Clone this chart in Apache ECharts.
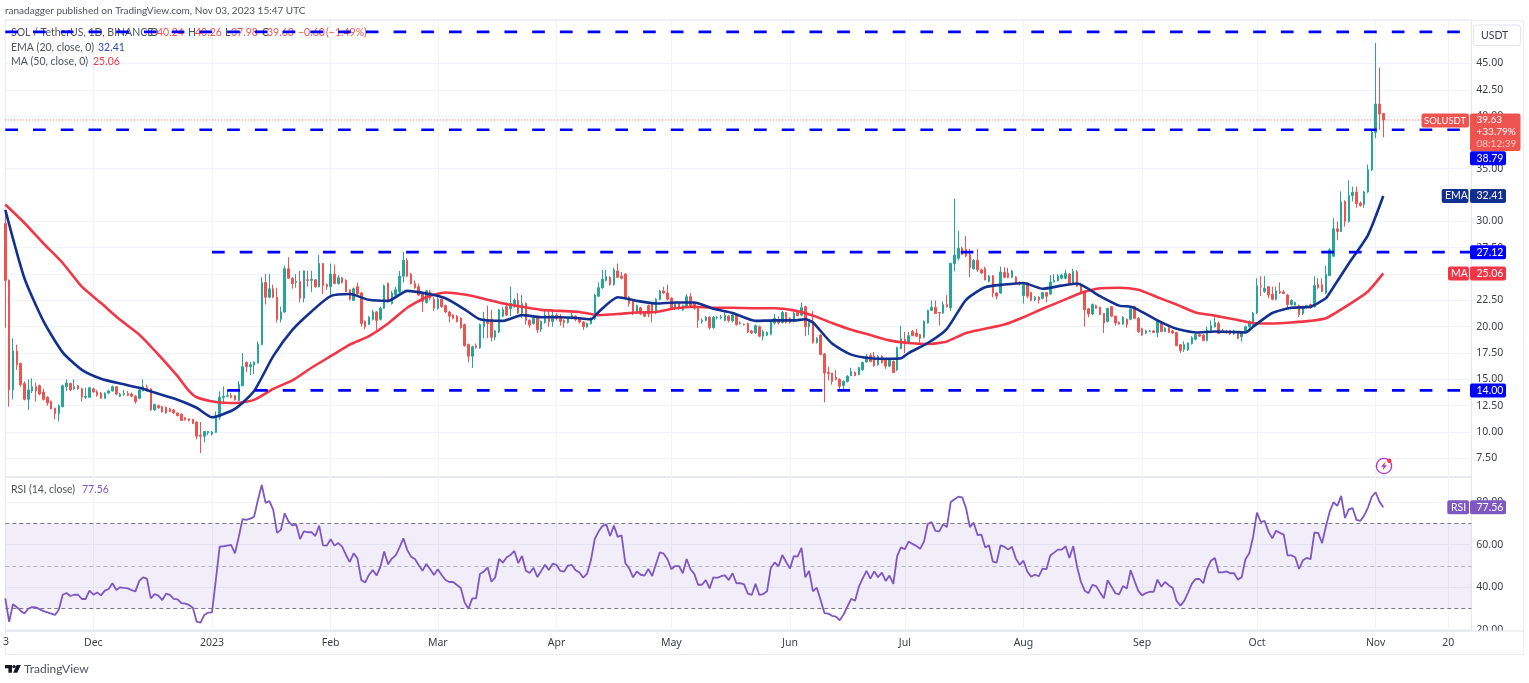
<!DOCTYPE html>
<html>
<head>
<meta charset="utf-8">
<title>SOLUSDT</title>
<script src="https://cdn.jsdelivr.net/npm/echarts@6/dist/echarts.min.js"></script>
<style>
html, body { margin: 0; padding: 0; background: #fff; }
#main { width: 1529px; height: 683px; }
</style>
</head>
<body>
<div id="main"></div>
<script>
var opens = [
29.8,24.4,14.0,17.7,16.5,14.6,13.1,13.9,14.3,14.4,
13.8,13.3,12.9,12.25,11.74,12.4,14.3,14.6,14.1,14.4,
14.1,13.3,13.3,14.1,13.8,13.7,13.2,13.7,13.9,14.3,
13.4,13.55,13.65,13.6,13.4,13.2,13.9,14.2,14.1,12.1,
12.5,12.4,12.35,12.2,12.1,11.8,11.7,11.35,11.25,11.2,
10.95,9.7,9.6,9.9,9.8,9.97,11.4,13.3,13.4,13.45,
13.45,13.0,14.4,16.6,16.2,16.35,16.55,18.3,24.2,22.8,
23.6,22.8,20.7,21.4,25.5,24.6,24.2,24.3,22.7,24.45,
24.4,24.45,23.8,26.0,24.0,23.8,25.0,24.1,24.65,24.4,
23.5,22.5,23.8,23.2,20.5,20.2,20.7,21.4,20.7,21.75,
24.1,22.2,23.0,23.3,24.8,26.3,25,24.1,23.8,23.1,
22.3,23.3,22.6,21.75,22.6,22,21.4,21.1,21,20.8,
20.2,18.3,17.2,18.2,18,20,20.7,20.7,19,19.5,
21,21.9,21.7,21.9,22.5,21.3,22.2,20.6,20.3,20.8,
19.75,20.4,21.1,20.5,21.1,21,20.6,20.4,20.8,21,
20.7,20.45,20,20.3,20.8,22.9,23.7,24.4,24.7,24,
25.3,24.8,25,22.8,22.4,21.3,21.8,21.4,22,22.1,
21.3,22.6,23.4,23.2,22.7,21.75,22.2,21.6,21.9,22.85,
22.2,21.75,20.5,20.6,20.9,19.9,20.85,20.85,20.6,21,
20.55,21.1,20.3,20.25,20.3,19.6,19.4,20,19.1,19.2,
19.3,20.35,20.6,20.4,21.35,20.8,20.5,21.35,21.1,21.9,
20,20.5,18.5,19.2,17.4,15.65,15.6,15.2,15,14.4,
14.8,15.35,15.65,15.45,15.9,16.65,17.25,17.2,16.4,17.2,
16.85,16.25,16.7,15.9,17.9,18.8,18.45,19.55,19.4,19.25,
19,20.35,21.55,21.85,21.35,21.3,22.1,21.8,26,26.5,
27.45,27.35,26.85,25.5,26.3,25.4,25.5,24.3,24.85,23.2,
23.2,25.15,25.1,24.7,24.7,24.2,22.95,24.15,23.25,22.55,
22.8,22.7,23.25,23.1,24.25,24.35,24.6,24.6,25,24.15,
25.2,24,23.35,21.7,21.2,22,21.85,21.25,20.5,21.9,
21,20.4,20.25,20.7,20.7,21.9,20.8,19.8,19.4,19.55,
19.6,19.45,20.35,19.55,19.9,19.6,19.45,18.3,17.85,17.8,
18.4,18.8,19.25,19.2,18.7,19.55,20,20.3,19.55,19.55,
19.6,19.3,19.45,19.05,19.45,20,20.2,21.3,23.9,23.35,
23.8,23.1,22.6,23.35,23.3,23,22.1,22.05,22,21.25,
21.95,22.1,21.9,24,24,23.2,24.85,26.7,29.3,29.05,
31.9,30,32.45,32.8,31.75,31.6,32.8,34.9,38.45,41.15,40.24
];
var closes = [
24.4,14.0,17.7,16.4,14.5,13.1,14.0,14.3,13.9,13.6,
13.1,12.75,12.2,11.74,12.5,14.4,14.65,14.0,14.3,14.1,
13.3,13.4,14.2,13.8,13.5,13.2,13.7,13.9,14.3,13.6,
13.6,13.65,13.5,13.4,12.9,14.0,14.3,13.9,12.1,12.6,
12.3,11.9,11.8,11.95,11.8,11.55,11.1,11.15,11.1,10.8,
9.6,9.6,10.05,10.05,10.0,11.4,13.3,13.4,13.45,13.3,
13.05,14.5,16.2,16.2,16.4,16.65,18.3,24.2,22.8,23.6,
22.8,20.7,21.4,25.5,24.6,24.1,24.3,22.7,25.3,24.4,
24.5,23.8,26.0,23.9,23.8,25.0,24.1,24.65,24.2,23.35,
22.6,23.6,23.1,20.3,20,20.9,21.4,20.6,21.75,23.9,
22.4,23.2,23.5,24.8,26.3,24.8,24.1,23.7,23,22.4,
23.4,22.7,21.75,22.6,21.9,21.4,21,20.8,20.5,19.9,
18.2,17.2,18.1,18.05,20.2,20.8,20.3,19,19.6,21.6,
21.6,21.1,22.2,22.5,21.3,22.2,20.6,20.15,20.8,19.7,
20.5,21.1,20.5,21.1,20.8,20.5,20.4,20.8,21.1,20.7,
20.45,20,20.3,20.8,23,23.7,24.5,24.75,24,25.4,
24.7,24.6,22.8,22.2,21.2,22,21.2,21,21.2,21.3,
22.6,23.4,23.2,22.6,21.75,22.2,21.75,22,22.85,21.9,
21.75,20.6,20.6,20.9,19.9,20.9,20.9,20.9,21.1,20.6,
21.1,20.2,20.35,20.2,19.5,19.4,20.1,19.1,19.55,19.45,
20.5,20.8,20.35,21.35,20.4,20.4,21.3,21.05,21.8,20,
20.4,18.5,18.9,17.35,15.6,15.55,14.8,15,14.35,14.8,
15.3,15.75,15.35,16.1,16.6,17.2,16.7,16.3,17.2,16.6,
16.25,16.85,15.65,18,18.85,18.45,19.15,19.15,19.1,18.9,
20.5,21.55,21.85,21.25,21.3,22.1,21.9,26,26.8,27.45,
26.85,26.7,25.6,26.3,25.4,25.1,24.45,24.8,23.2,22.9,
25.2,24.7,24.7,25.3,24.15,24.1,24,22.9,22.5,22.8,
22.55,23.25,22.9,24.25,24.4,24.8,24.9,25.05,24.1,25.25,
23.85,23.2,21.6,21.2,22.1,21.75,21.15,20.35,21.75,21,
20.35,20.25,20.9,20.2,21.7,20.8,19.55,19.2,19.6,19.6,
19.45,20.5,19.55,19.85,19.45,19.4,18.2,17.75,18.3,18.45,
18.95,19.25,19.1,18.7,19.65,20.1,20.4,19.35,19.6,19.45,
19.3,19.6,18.9,19.55,20,20.5,21.3,23.9,23.85,23.65,
23,22.6,23.4,23.2,23.15,22.1,22.5,22.3,21.15,21.95,
22,21.8,23.9,23.7,23.35,24.95,27.3,29.3,29.05,31.85,
30,32.45,32.75,31.7,31.5,32.8,34.9,38.45,41.15,40.2,39.63
];
var lows = [
19.9,12.4,13.1,15.9,14.3,13.0,12.1,13.7,12.9,13.5,
13.0,12.5,12.15,11.2,11.0,12.35,13.9,13.9,14.0,14.0,
12.9,13.15,13.25,13.75,13.35,13.15,13.15,13.6,13.85,13.5,
13.3,13.45,13.4,13.3,12.7,13.1,13.85,13.85,12.0,12.0,
12.2,11.85,11.75,11.9,11.75,11.5,11.05,11.1,11.0,10.75,
9.3,8.0,9.0,9.7,9.65,9.9,11.15,12.8,13.3,13.2,
13.0,12.95,14.35,15.7,15.4,15.5,16.5,18.25,22.1,22.7,
22.7,20.4,20.4,21.3,24.55,23.6,23.7,22.3,22.3,23.8,
23.3,23.7,23.75,23.1,23.5,22.9,24.05,24.0,24.1,23.3,
22.5,22.45,23.05,20.0,19.75,20.15,20.6,19.7,20.6,21.7,
22.3,22.1,22.9,23.2,24.2,24.7,24.0,23.6,22.9,21.4,
22.2,22.5,21.5,21.6,21.8,21.3,20.4,20.7,20.4,19.8,
18.1,16.6,16.1,17.9,17.9,18.9,18.9,18.6,18.7,19.4,
20.9,21,21,21.8,21.2,20.8,20.2,19.9,20.2,19.4,
19.5,20.3,20,20,20.6,20.1,19.9,20.3,20.7,20.5,
20.3,19.7,19.9,20.2,20.6,22.8,23.6,24.3,23.9,23.9,
24.6,24.5,22.7,21.9,21.1,21.2,21.1,20.9,20.9,20.4,
21.2,22.5,23.1,22.5,21.6,21.6,21.6,21.5,21.8,21.8,
21.6,19.9,20.3,20.5,19.7,19.8,20.7,20.7,20.5,20.4,
20.4,20.1,20.2,20.1,19.4,19.3,19.3,19,18.7,19.1,
19.2,20.2,20.2,20.3,20.3,20.3,20.4,21,21,19.1,
19.2,18.4,18.4,17.3,12.8,14.9,14.5,14.9,14,14,
14.7,15.3,15.3,15.4,15.8,16.6,16.6,16.2,16.3,16.5,
16,16.2,15.6,15.8,18,17.5,18.4,19.1,19,18.4,
18.9,20.3,21.5,21.2,20.1,21.2,21.8,21.5,25.25,26.3,
26.8,26.6,24.7,25.4,25.2,25,24.4,24.2,22.8,22.6,
23.1,24.6,24.6,24.6,24.1,23.9,22.2,22.7,22.4,22.4,
22.2,22.6,22.3,23,24.2,24.3,24.5,24.5,24,24.1,
23.8,23.1,20,20.9,21.1,21.7,21.1,19.4,20.4,20.9,
20.1,20.2,20.2,19.9,20.6,20.7,19.4,19.15,19.3,19.5,
19.4,19,19.5,19.5,19.4,19.3,18.15,17.5,17.6,17.7,
18.3,18.7,19,18.6,18.6,19.5,19.9,19.3,19.4,19.35,
19.2,19.2,18.8,18.6,19.4,19.9,20.1,21.2,22.9,23.2,
22.7,22.5,22.5,23.1,23.1,21.7,22,22,20.9,21.1,
21.8,21.7,21.8,23.6,23.3,23.1,24.8,26.6,28.2,29,
29.5,29.9,31.9,31.3,31.4,31.3,32.7,34.8,37.9,38.7,37.98
];
var highs = [
31.0,24.5,18.9,18.3,16.6,14.8,15.0,15.1,14.7,14.5,
14.1,13.4,13.0,12.3,12.6,14.5,15.0,14.7,15.0,14.45,
14.2,14.2,14.3,14.2,14.0,13.8,13.75,14.0,14.4,14.35,
13.7,14.0,13.9,13.75,13.5,14.1,15.0,14.5,14.15,12.7,
12.6,12.5,12.4,12.3,12.15,11.85,11.75,11.4,11.3,11.25,
11.0,10.95,10.1,10.1,10.1,11.95,13.85,14.3,14.0,13.7,
13.5,14.85,17.5,16.7,16.65,16.7,18.6,24.7,25.0,25.0,
24.0,23.7,21.9,25.8,26.6,24.7,25.0,25.3,25.35,25.3,
25.3,24.5,26.8,26.05,24.1,26.0,25.9,24.9,24.7,24.5,
23.55,23.7,24.2,23.3,20.6,21.0,21.6,21.5,21.9,24.0,
24.2,23.4,23.8,25.3,27.1,26.5,25.1,24.4,24.1,23.2,
23.5,23.5,22.8,22.8,22.7,22.1,21.5,21.2,21.1,20.9,
20.3,18.4,18.2,18.4,20.3,21.4,22,21.6,19.7,21.7,
21.9,22.3,23.8,22.7,23.2,23,22.3,20.7,21,21,
20.6,21.5,21.5,21.5,21.3,21.2,20.7,20.9,21.3,21.1,
20.8,20.5,20.4,20.9,23.1,24.2,25.4,25.4,24.8,25.6,
26,25.2,25.1,22.9,22.6,22.1,21.9,21.5,22.1,22.2,
22.7,23.5,23.8,24,22.8,22.3,22.3,22.1,23.1,23.2,
22.3,21.8,20.8,21,21,21,21,21.1,21.5,21.1,
21.2,21.2,20.5,20.3,20.4,19.7,20.2,20.1,19.7,19.55,
20.6,21.2,21,21.5,21.4,20.9,21.4,21.5,22.3,22,
20.5,21.5,19,19.3,17.5,16.2,15.6,15.9,15.1,14.9,
15.4,16.1,15.75,16.2,16.7,17.4,17.5,17.6,17.3,17.3,
17,16.9,16.8,18.1,20.1,19.5,19.5,19.7,19.8,19.3,
20.6,21.6,22.5,22.5,21.4,22.4,23,26.1,32.15,29.1,
27.6,28.6,27.4,26.4,27.4,25.5,25.7,24.9,24.9,23.3,
25.7,25.65,25.6,25.4,24.8,24.3,24.1,24.2,23.3,22.9,
22.9,23.3,23.3,24.9,25,25,25,25.4,25.1,25.5,
25.4,24.1,23.4,21.8,22.2,22.1,21.9,21.3,21.8,21.95,
21.05,20.5,21,20.8,21.9,22,20.9,19.9,19.7,19.7,
19.7,20.7,20.4,19.95,20,19.7,19.5,18.35,18.6,18.5,
19.1,19.4,19.35,19.3,20,20.6,20.9,20.5,19.8,19.7,
19.7,19.7,19.5,19.6,20.1,20.6,21.4,24.6,24.8,24.8,
23.85,23.8,23.8,24.2,23.5,23.1,22.6,22.4,22.1,22,
22.1,22.2,24.8,24.6,24.6,25.8,27.45,30.3,30,32.85,
32,33.9,33.3,33.3,31.9,32.9,35.4,38.6,46.95,44.6,40.26
];

var emaDays = [0,5,10,15,20,25,30,35,40,45,50,54,60,65,70,75,80,85,90,95,100,105,110,115,120,124,130,135,140,145,150,153,155,160,165,170,175,180,185,190,196,201,206,209,211,216,221,226,231,234,236,241,246,251,256,261,266,271,276,280,286,291,294,296,301,306,311,316,321,324,326,331,336,341,345,346,351,356,360];
var emaValues = [31.1,24.6,20.5,17.56,15.9,15.06,14.6,14.2,13.64,13.07,12.3,11.4,12.2,13.9,17.2,19.7,21.45,22.9,23.1,22.55,22.45,23.4,23.15,22.7,21.65,20.7,20.55,21.1,20.9,20.9,20.8,20.7,21.4,22.8,22.45,22.2,22.3,22.3,21.7,21.3,20.55,20.6,20.6,20.7,20.4,18.4,17.35,17,16.95,17,17.5,18.45,19.8,22.55,23.75,24,24.15,23.6,23.9,24.1,22.9,22,21.9,21.6,20.6,19.8,19.45,19.55,19.5,19.45,20,21.3,21.8,21.9,22.7,23.2,26,28.7,32.41];
var maDays = [0,5,10,15,20,25,30,35,40,45,48,50,55,60,65,70,75,80,85,90,95,100,105,110,115,120,125,130,135,140,145,150,155,160,165,170,175,180,185,190,196,201,206,211,216,221,226,231,236,241,246,251,256,261,266,271,276,281,286,291,296,301,306,311,316,321,326,331,336,341,345,351,356,360];
var maValues = [31.6,29.85,27.9,26.05,23.8,22.25,20.65,19.25,17.35,15.3,13.9,13.3,12.85,12.75,13.05,14.1,14.9,16.1,17.2,18.3,19.1,20.3,21.8,22.8,23.25,23.05,22.65,22.2,21.9,21.6,21.5,21.4,21.1,21.2,21.35,21.4,21.75,21.9,21.8,21.8,21.75,21.75,21.55,21.05,20.35,19.7,19.2,18.7,18.45,18.35,18.6,19.4,19.8,20.2,20.9,21.7,22.45,23.2,23.65,23.7,23.5,22.8,22.1,21.35,21.05,20.7,20.35,20.3,20.4,20.55,20.8,22.1,23.35,25.06];

var rsiValues = [
34.7,23.7,31.9,30.5,28.9,27.6,29.8,30.6,30.5,29.5,
28.7,28.1,27.5,26.9,29.5,36.4,37.2,35.8,36.4,36.4,
34.4,34.4,38.3,36.4,37.5,36.1,38.3,39.1,41.8,38.6,
39.9,39.6,39.4,38.6,38,42.9,44.6,44,34.7,36.7,
36,33.9,36.9,36.3,34.5,34.2,32.5,32.2,31.6,30.3,
23.7,23.3,26.9,28,28.1,43.3,59,59.2,59.5,59.8,
55.9,63.7,72,71.6,72.2,73.1,81,88,79.6,80.4,
76.3,65.5,66.9,74.7,70.8,69,69.4,62.6,66.2,65.8,
65.8,64,68.9,59.6,59.5,62.5,59.5,60.7,59,55.1,
51.8,55.9,53.5,43.3,42.1,45.7,48,45.4,49.6,56.7,
50.7,53.4,54.9,58.7,62.9,57.5,54.3,53.2,50.4,47.7,
50.9,48.4,45.7,48.4,45.7,43.3,42.4,42.4,41,39.6,
32.8,29.8,34.7,34.7,46.2,47.3,49.3,42.5,44.6,53.2,
51.5,54,55.1,57,51.3,54.6,47.7,46.6,49.1,44.7,
47.6,50.5,48,51,50.4,47.6,47.3,50.1,50.4,47.9,
46.9,44.4,46.3,52.7,62.6,66.1,68.7,69.5,64,68.9,
63.6,64.4,51.2,48.8,44.6,47.3,45.8,45.4,48.5,45.2,
50.9,56.4,55.7,53.1,48.4,49.9,49.9,46.5,53.2,48.4,
46.2,41.1,41.1,43.3,39.4,44.6,44.3,45.1,45.5,43.3,
46.5,41.8,41.9,41.3,36.9,36.3,41.5,36.3,36.7,38,
49,51.6,49.8,55.1,51.8,48.7,54.6,54.3,58.5,44.6,
47.6,38,39.7,33.9,27.8,27.5,26.5,26.1,24.4,27.1,
30.8,34.5,33.6,40.2,44.1,47.6,44,47.4,44.6,46.8,
42.9,45.4,41.5,54.6,58.7,57.8,61.4,60.3,59.4,58,
61.4,69.7,70.6,66.4,66.2,69.5,68.2,80,81.3,82.5,
82.2,77.1,68.2,70.3,64.5,64.7,58.7,59.6,52,51.5,
59.6,59,57.6,59,53.5,50.5,52.4,47.3,44.9,45.8,
45.1,48.7,48.4,54.9,56.2,57.6,57.6,59.2,53.7,59.3,
49.6,42.5,38.3,37.1,41,40.4,37.5,34.7,43.2,40.2,
37.1,36.6,40.5,39.3,47.9,42.9,38.2,36.1,37.2,37.8,
37.7,43.5,40.2,42.4,40.8,39.6,33.5,31.3,33.5,37.4,
41.6,43.8,43.8,41.8,48.7,52.4,53.7,46.9,46.9,47.4,
46.5,46.6,43.5,44.6,53.1,55.9,63.7,75,70.6,71.1,
66.1,62.9,66.5,65.5,64.7,54.9,54.9,54,48.5,52.6,
53.7,53.2,65.6,65.5,60.6,68.4,75.5,79.9,78.2,82.9,
72.5,76.6,77.1,71.6,71.1,73.6,77.4,82.5,84.6,80.2,77.56
];

// price scale ticks and hand drawn levels
var priceTicks = [7.5,10,12.5,15,17.5,20,22.5,25,27.5,30,35,40,42.5,45];
var rsiTicks = [20,40,60,80];
var topLevel = 48;
var upperLevel = 38.71;
var midLevel = 27.08;
var lowLevel = 13.95;
var lastPrice = 39.63;
var emaLast = 32.41;
var maLast = 25.06;
var rsiLast = 77.56;

var tickDates = ['2022-12-01','2023-01-01','2023-02-01','2023-03-01','2023-04-01','2023-05-01','2023-06-01','2023-07-01','2023-08-01','2023-09-01','2023-10-01','2023-11-01','2023-11-20'];
var tickLabels = ['Dec','2023','Feb','Mar','Apr','May','Jun','Jul','Aug','Sep','Oct','Nov','20'];

var categories = [];
var startDay = Date.UTC(2022, 10, 8);
for (var d = 0; d < 384; d++) {
    categories.push(new Date(startDay + d * 86400000).toISOString().slice(0, 10));
}

var FONT = '"Noto Sans", sans-serif';
var LABEL_FONT = 'Lato, sans-serif';
var TEXT = '#3a3e48';
var GRID = '#f0f3fa';
var BORDER = '#e0e3eb';
var UP = '#26a69a';
var DOWN = '#ef5350';
var BLUE = '#0000ff';
var NAVY = '#12308f';
var PINK = '#f23645';
var PURPLE = '#7e57c2';

var candles = opens.map(function (o, i) {
    return [o, closes[i], lows[i], highs[i]];
});

function pairs(days, values) {
    return days.map(function (d, i) { return [d, values[i]]; });
}

function isTick(index, value) {
    return tickDates.indexOf(value) >= 0;
}

function hLine(name, from, to, value) {
    return {
        name: name,
        type: 'line',
        xAxisIndex: 0,
        yAxisIndex: 0,
        data: [[from, value], [to, value]],
        symbol: 'none',
        z: 6,
        silent: true,
        lineStyle: { color: BLUE, width: 2.6, type: [12.7, 15.03], cap: 'butt' }
    };
}

var chart = echarts.init(document.getElementById('main'), null, { renderer: 'canvas' });

chart.setOption({
    animation: false,
    backgroundColor: '#fff',
    textStyle: { fontFamily: FONT },
    grid: [
        { left: 5.3, top: 20, width: 1466, height: 457, show: true, borderColor: BORDER, borderWidth: 1 },
        { left: 5.3, top: 477, width: 1466, height: 154, show: true, borderColor: BORDER, borderWidth: 1 }
    ],
    xAxis: [
        {
            type: 'category', gridIndex: 0, data: categories, boundaryGap: false,
            axisLine: { show: false }, axisTick: { show: false }, axisLabel: { show: false },
            splitLine: { show: true, interval: isTick, lineStyle: { color: GRID, width: 1 } }
        },
        {
            type: 'category', gridIndex: 1, data: categories, boundaryGap: false,
            axisLine: { show: false }, axisTick: { show: false },
            axisLabel: {
                show: true, interval: isTick, color: TEXT, fontSize: 10.5, margin: 7, fontFamily: FONT,
                formatter: function (value) { return tickLabels[tickDates.indexOf(value)]; }
            },
            splitLine: { show: true, interval: isTick, lineStyle: { color: GRID, width: 1 } }
        }
    ],
    yAxis: [
        {
            type: 'value', gridIndex: 0, position: 'right', min: 5.726, max: 49.126,
            axisLine: { show: false }, axisTick: { show: false, customValues: priceTicks },
            axisLabel: {
                color: TEXT, fontSize: 10.5, margin: 5, fontFamily: FONT, customValues: priceTicks,
                formatter: function (v) { return v.toFixed(2); }
            },
            splitLine: { show: true, lineStyle: { color: GRID, width: 1 } }
        },
        {
            type: 'value', gridIndex: 1, position: 'right', min: 19.34, max: 91.78,
            axisLine: { show: false }, axisTick: { show: false, customValues: rsiTicks },
            axisLabel: {
                color: TEXT, fontSize: 10.5, margin: 5, fontFamily: FONT, customValues: rsiTicks,
                formatter: function (v) { return v.toFixed(2); }
            },
            splitLine: { show: true, lineStyle: { color: GRID, width: 1 } }
        }
    ],
    series: [
        {
            name: 'SOLUSDT', type: 'candlestick', xAxisIndex: 0, yAxisIndex: 0, data: candles, barWidth: 2, z: 3,
            itemStyle: { color: UP, color0: DOWN, borderColor: UP, borderColor0: DOWN, borderWidth: 1 }
        },
        {
            name: 'Last', type: 'line', xAxisIndex: 0, yAxisIndex: 0, symbol: 'none', z: 2, silent: true,
            data: [[0, lastPrice], [372, lastPrice]],
            lineStyle: { color: DOWN, width: 1, type: [1, 2] }
        },
        {
            name: 'EMA', type: 'line', xAxisIndex: 0, yAxisIndex: 0, data: pairs(emaDays, emaValues),
            symbol: 'none', smooth: 0.2, z: 5, lineStyle: { color: NAVY, width: 2.6 }
        },
        {
            name: 'MA', type: 'line', xAxisIndex: 0, yAxisIndex: 0, data: pairs(maDays, maValues),
            symbol: 'none', smooth: 0.2, z: 4, lineStyle: { color: PINK, width: 2.6 }
        },
        hLine('Top', 0, 380, topLevel),
        hLine('Upper', 0, 380, upperLevel),
        hLine('Mid', 54, 383, midLevel),
        hLine('Low', 58, 383, lowLevel),
        {
            name: 'RSI', type: 'line', xAxisIndex: 1, yAxisIndex: 1, data: rsiValues,
            symbol: 'none', z: 5, lineStyle: { color: PURPLE, width: 1.8 },
            markArea: {
                silent: true,
                itemStyle: { color: 'rgba(126,87,194,0.1)' },
                data: [[{ yAxis: 70 }, { yAxis: 30 }]]
            },
            markLine: {
                silent: true, symbol: 'none', label: { show: false },
                data: [
                    { yAxis: 70, lineStyle: { color: '#787b86', width: 1, type: [4, 3] } },
                    { yAxis: 50, lineStyle: { color: '#b2b5be', width: 1, type: [4, 3] } },
                    { yAxis: 30, lineStyle: { color: '#787b86', width: 1, type: [4, 3] } }
                ]
            }
        }
    ]
});

function text(x, y, s, color, size, font) {
    var style = { x: x, y: y, text: s, fill: color, font: (size || 10.5) + 'px ' + (font || LABEL_FONT), textVerticalAlign: 'middle' };
    return { type: 'text', z: 1, silent: true, style: style };
}

function box(x, y, w, h, fill, z) {
    return { type: 'rect', z: z || 100, silent: true, shape: { x: x, y: y, width: w, height: h, r: 2 }, style: { fill: fill } };
}

function tag(x, yc, w, fill, s, textX, size) {
    var t = text(textX, yc, s, '#fff', size || 10.5);
    t.z = 101;
    return [box(x, yc - 7, w, 14, fill), t];
}

var py = function (v) { return chart.convertToPixel({ yAxisIndex: 0 }, v); };
var ry = function (v) { return chart.convertToPixel({ yAxisIndex: 1 }, v); };

var els = [];
// header and legends
els.push(text(5, 10.5, 'ranadagger published on TradingView.com, Nov 03, 2023 15:47 UTC', '#50535e', 10));
els.push(text(11, 33, 'SOL / TetherUS, 1D, BINANCE', '#50535e'));
var ohlcX = [150, 188, 225, 262];
['O', 'H', 'L', 'C'].forEach(function (s, i) { els.push(text(ohlcX[i], 33, s, '#50535e')); });
var valX = [157, 195, 231, 267, 298, 326];
['40.24', '40.26', '37.98', '39.63', '\u22120.60', '(\u22121.49%)'].forEach(function (s, i) {
    els.push(text(valX[i], 33, s, DOWN));
});
els.push(text(11, 47.5, 'EMA (20, close, 0)', '#50535e'));
els.push(text(98, 47.5, '32.41', '#2a4fb0'));
els.push(text(11, 62, 'MA (50, close, 0)', '#50535e'));
els.push(text(93, 62, '25.06', PINK));
els.push(text(11, 490, 'RSI (14, close)', '#50535e'));
els.push(text(82, 490, '77.56', PURPLE));

// frame
els.push({ type: 'rect', z: 0, silent: true, shape: { x: 5.5, y: 20.5, width: 1518, height: 634 }, style: { fill: null, stroke: '#ececf2', lineWidth: 1 } });
// price scale clips its own labels at the time axis
els.push({ type: 'rect', z: 50, silent: true, shape: { x: 1472, y: 631, width: 51, height: 22 }, style: { fill: '#fff' } });
els.push({ type: 'line', z: 51, silent: true, shape: { x1: 5, y1: 631, x2: 1524, y2: 631 }, style: { stroke: BORDER, lineWidth: 1 } });
els.push(text(3, 642.5, '3', TEXT, 10.5, FONT));

// USDT button
els.push({ type: 'rect', z: 10, silent: true, shape: { x: 1473.5, y: 25, width: 47, height: 20.5, r: 3 }, style: { fill: '#fff', stroke: BORDER, lineWidth: 1 } });
var u = text(1481, 35.5, 'USDT', TEXT, 10.5); u.z = 11; els.push(u);

// price tags
els = els.concat(tag(1421.5, py(lastPrice) + 0.5, 47.5, DOWN, 'SOLUSDT', 1424, 9.5));
els.push(box(1470, 113.5, 50.5, 37.5, DOWN));
[['39.63', '#fff', 120], ['+33.79%', '#fff', 132], ['08:12:39', '#ffc9c7', 144]].forEach(function (r) {
    var t = text(1476.5, r[2], r[0], r[1], 10); t.z = 101; els.push(t);
});
els = els.concat(tag(1470, 158.2, 36, BLUE, '38.79', 1476.5));
els = els.concat(tag(1470, py(midLevel), 36, BLUE, '27.12', 1476.5));
els = els.concat(tag(1470, py(lowLevel), 36, BLUE, '14.00', 1476.5));
els = els.concat(tag(1441.7, py(emaLast), 26.8, NAVY, 'EMA', 1445));
els = els.concat(tag(1470, py(emaLast), 36, NAVY, '32.41', 1476.5));
els = els.concat(tag(1448, py(maLast), 21, PINK, 'MA', 1451));
els = els.concat(tag(1470, py(maLast), 36, PINK, '25.06', 1476.5));
els = els.concat(tag(1447.3, ry(rsiLast), 21.7, PURPLE, 'RSI', 1451));
els = els.concat(tag(1470, ry(rsiLast), 36, PURPLE, '77.56', 1476.5));

// lightning marker
els.push({ type: 'circle', z: 20, silent: true, shape: { cx: 1384, cy: 466, r: 7.6 }, style: { fill: '#fff', stroke: '#b23ac6', lineWidth: 1.4 } });
els.push({ type: 'polygon', z: 21, silent: true, shape: { points: [[1385.6, 461.5], [1381, 466.8], [1383.6, 466.8], [1382.4, 470.5], [1387, 465.2], [1384.4, 465.2]] }, style: { fill: '#b23ac6' } });
els.push({ type: 'circle', z: 22, silent: true, shape: { cx: 1389.3, cy: 460.7, r: 2.2 }, style: { fill: '#f23645' } });

// logo
els.push({ type: 'polygon', z: 2, silent: true, shape: { points: [[5, 665], [12, 665], [12, 672.7], [8.4, 672.7], [8.4, 668.2], [5, 668.2]] }, style: { fill: '#131722' } });
els.push({ type: 'circle', z: 2, silent: true, shape: { cx: 14, cy: 666.6, r: 1.7 }, style: { fill: '#131722' } });
els.push({ type: 'polygon', z: 2, silent: true, shape: { points: [[16.6, 665], [20.8, 665], [17.3, 672.7], [13.2, 672.7]] }, style: { fill: '#131722' } });
els.push(text(24, 669, 'TradingView', '#50535e', 12));

chart.setOption({ graphic: { elements: els } });
</script>
</body>
</html>
